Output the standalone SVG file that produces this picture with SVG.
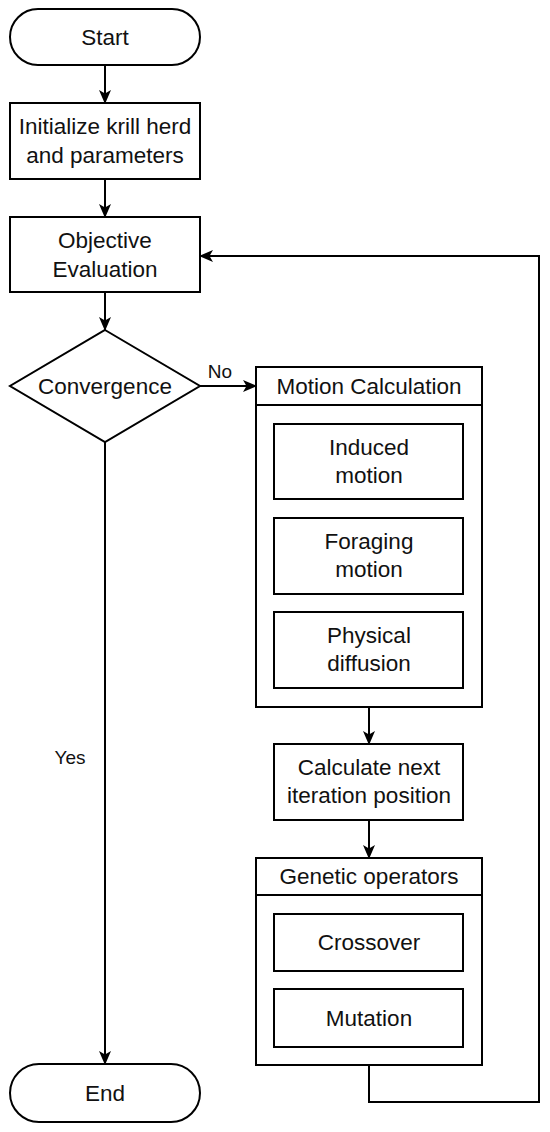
<svg xmlns="http://www.w3.org/2000/svg" width="550" height="1132" viewBox="0 0 550 1132">
<defs>
<marker id="arr" markerUnits="userSpaceOnUse" markerWidth="14" markerHeight="14" viewBox="0 0 14 14" refX="13" refY="7" orient="auto">
<path d="M0,1 L14,7 L0,13 L3.5,7 z" fill="#000"/>
</marker>
<style>
.s{fill:#fff;stroke:#000;stroke-width:2}
.t{font-family:"Liberation Sans",Arial,sans-serif;font-size:22.5px;fill:#111;text-anchor:middle}
.c{fill:none;stroke:#000;stroke-width:2}
</style>
</defs>
<rect width="550" height="1132" fill="#fff"/>
<g id="start"><rect class="s" x="10" y="9" width="190" height="56" rx="28"/><text class="t" x="105" y="45">Start</text></g>
<g id="init"><rect class="s" x="10" y="103" width="190" height="76"/><text class="t" x="105" y="134">Initialize krill herd</text><text class="t" x="105" y="163">and parameters</text></g>
<g id="objective"><rect class="s" x="10" y="217" width="190" height="75"/><text class="t" x="105" y="248">Objective</text><text class="t" x="105" y="277">Evaluation</text></g>
<g id="convergence"><polygon class="s" points="105,330 200,386 105,442 10,386"/><text class="t" x="105" y="394">Convergence</text></g>
<g id="motion"><rect class="s" x="256" y="367" width="226" height="340"/><line class="c" x1="256" y1="405" x2="482" y2="405"/><text class="t" x="369" y="394">Motion Calculation</text></g>
<g id="induced"><rect class="s" x="274" y="424" width="189" height="75"/><text class="t" x="369" y="455">Induced</text><text class="t" x="369" y="483">motion</text></g>
<g id="foraging"><rect class="s" x="274" y="518" width="189" height="76"/><text class="t" x="369" y="549">Foraging</text><text class="t" x="369" y="577">motion</text></g>
<g id="physical"><rect class="s" x="274" y="612" width="189" height="76"/><text class="t" x="369" y="643">Physical</text><text class="t" x="369" y="671">diffusion</text></g>
<g id="nextpos"><rect class="s" x="274" y="744" width="189" height="76"/><text class="t" x="369" y="775">Calculate next</text><text class="t" x="369" y="803">iteration position</text></g>
<g id="genetic"><rect class="s" x="256" y="858" width="226" height="207"/><line class="c" x1="256" y1="895" x2="482" y2="895"/><text class="t" x="369" y="884">Genetic operators</text></g>
<g id="crossover"><rect class="s" x="274" y="914" width="189" height="57"/><text class="t" x="369" y="950">Crossover</text></g>
<g id="mutation"><rect class="s" x="274" y="989" width="189" height="58"/><text class="t" x="369" y="1026">Mutation</text></g>
<g id="end"><rect class="s" x="10" y="1064" width="190" height="58" rx="29"/><text class="t" x="105" y="1101">End</text></g>
<g id="connectors">
<line class="c" x1="105" y1="65" x2="105" y2="103" marker-end="url(#arr)"/>
<line class="c" x1="105" y1="179" x2="105" y2="217" marker-end="url(#arr)"/>
<line class="c" x1="105" y1="292" x2="105" y2="330" marker-end="url(#arr)"/>
<line class="c" x1="200" y1="386" x2="256" y2="386" marker-end="url(#arr)"/>
<text class="t" x="220" y="378" style="font-size:19px">No</text>
<line class="c" x1="105" y1="442" x2="105" y2="1064" marker-end="url(#arr)"/>
<text class="t" x="70" y="764" style="font-size:19px">Yes</text>
<line class="c" x1="369" y1="707" x2="369" y2="744" marker-end="url(#arr)"/>
<line class="c" x1="369" y1="820" x2="369" y2="858" marker-end="url(#arr)"/>
<polyline class="c" points="369,1065 369,1102 539,1102 539,256 200,256" marker-end="url(#arr)"/>
</g>
</svg>
